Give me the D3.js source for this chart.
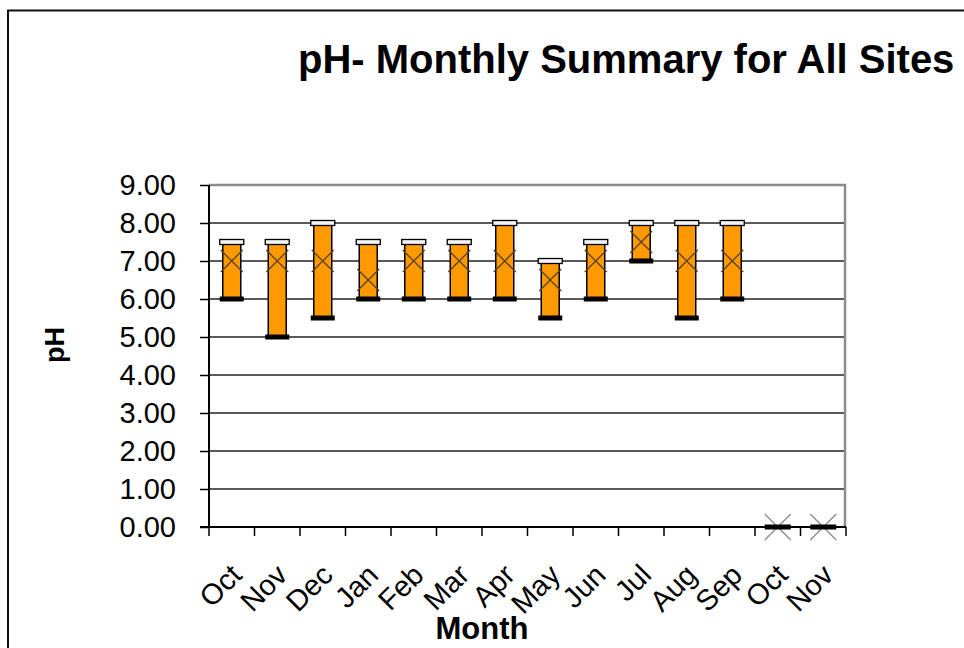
<!DOCTYPE html>
<html><head><meta charset="utf-8">
<script src="https://cdn.jsdelivr.net/npm/d3@7"></script>
<style>body{margin:0;background:#fff}svg{display:block}text{font-family:"Liberation Sans",Arial,sans-serif;fill:#000}</style>
</head><body>
<svg id="c" width="964" height="648"></svg>
<script>
const months = ["Oct","Nov","Dec","Jan","Feb","Mar","Apr","May","Jun","Jul","Aug","Sep","Oct","Nov"];
const highs  = [7.5,7.5,8.0,7.5,7.5,7.5,8.0,7.0,7.5,8.0,8.0,8.0,0,0];
const lows   = [6.0,5.0,5.5,6.0,6.0,6.0,6.0,5.5,6.0,7.0,5.5,6.0,0,0];
const means  = [7.0,7.0,7.0,6.5,7.0,7.0,7.0,6.5,7.0,7.5,7.0,7.0,0,0];
const yTicks = [0,1,2,3,4,5,6,7,8,9];
const title = "pH- Monthly Summary for All Sites";
const xTitle = "Month", yTitle = "pH";

const svg = d3.select("#c");
const L = 209, R = 846, T = 185, B = 527;
const idx = months.map((d,i)=>i);
const x = d3.scaleBand().domain(idx).range([L,R]).padding(0);
const y = d3.scaleLinear().domain([0,9]).range([B,T]);

// outer chart border
svg.append("path").attr("d","M8,648V10.5H964").attr("fill","none").attr("stroke","#111").attr("stroke-width",2);

// title
svg.append("text").attr("x",298).attr("y",73).attr("font-size",40).attr("font-weight","bold").text(title);

// gridlines
svg.append("g").selectAll("line").data(yTicks.filter(d=>d>0&&d<9)).join("line")
  .attr("x1",L).attr("x2",R).attr("y1",d=>y(d)).attr("y2",d=>y(d))
  .attr("stroke","#222").attr("stroke-width",1.3);
// plot border top/right
svg.append("path").attr("d",`M${L},${y(9)}H${R-1}V${B}`).attr("fill","none").attr("stroke","#8c8c8c").attr("stroke-width",2.5);

// y axis
const yAxis = d3.axisLeft(y).tickValues(yTicks).tickFormat(d3.format(".2f")).tickSize(9).tickPadding(24);
const gy = svg.append("g").attr("transform",`translate(${L},0)`).call(yAxis);
gy.select(".domain").attr("stroke","#000").attr("stroke-width",2).attr("d",`M0,${T}V${B}`);
gy.selectAll(".tick line").attr("stroke","#000").attr("stroke-width",1.5);
gy.selectAll(".tick text").attr("font-size",29).attr("font-family","Liberation Sans, Arial, sans-serif").attr("fill","#000");

// x axis
const bounds = d3.range(months.length+1).map(i=>L+i*x.bandwidth());
svg.append("line").attr("x1",200).attr("x2",R).attr("y1",B).attr("y2",B).attr("stroke","#000").attr("stroke-width",2);
svg.append("g").selectAll("line").data(bounds).join("line")
  .attr("x1",d=>d).attr("x2",d=>d).attr("y1",B).attr("y2",B+9).attr("stroke","#000").attr("stroke-width",1.5);
svg.append("g").selectAll("text").data(idx).join("text")
  .attr("transform",i=>`translate(${x(i)+x.bandwidth()/2-3},${B+35}) rotate(-45)`)
  .attr("text-anchor","end").attr("dy","0.72em").attr("font-size",29).text(i=>months[i]);

// axis titles
svg.append("text").attr("transform","translate(63.5,345) rotate(-90)").attr("text-anchor","middle")
  .attr("font-size",27).attr("font-weight","bold").text(yTitle);
svg.append("text").attr("x",482).attr("y",639).attr("text-anchor","middle")
  .attr("font-size",31).attr("font-weight","bold").text(xTitle);

// bars
const g = svg.append("g");
const cx = i=>x(i)+x.bandwidth()/2;
const bw = 18, cw = 24, ch = 5;
g.selectAll("rect.bar").data(idx.filter(i=>highs[i]>lows[i])).join("rect").attr("class","bar")
  .attr("x",i=>cx(i)-bw/2).attr("width",bw).attr("y",i=>y(highs[i])).attr("height",i=>y(lows[i])-y(highs[i]))
  .attr("fill","#FF9900").attr("stroke","#000").attr("stroke-width",1.5);
// X markers
g.selectAll("path.mk").data(idx).join("path").attr("class","mk")
  .attr("d",i=>{const s = highs[i]>lows[i]?11:13, X=cx(i), Y=y(means[i]);return `M${X-s},${Y-s}L${X+s},${Y+s}M${X-s},${Y+s}L${X+s},${Y-s}`;})
  .attr("stroke",i=>highs[i]>lows[i]?"#5a4020":"#8a8a8a").attr("stroke-width",1.3).attr("fill","none");
// high caps (white)
g.selectAll("rect.hi").data(idx.filter(i=>highs[i]>lows[i])).join("rect").attr("class","hi")
  .attr("x",i=>cx(i)-cw/2).attr("width",cw).attr("y",i=>y(highs[i])-ch/2).attr("height",ch)
  .attr("fill","#f4f4f4").attr("stroke","#000").attr("stroke-width",1.3);
// low caps (black)
g.selectAll("rect.lo").data(idx).join("rect").attr("class","lo")
  .attr("x",i=>cx(i)-(highs[i]>lows[i]?cw:26)/2).attr("width",i=>highs[i]>lows[i]?cw:26).attr("y",i=>y(lows[i])-ch/2).attr("height",ch)
  .attr("fill","#000");
</script>
</body></html>
